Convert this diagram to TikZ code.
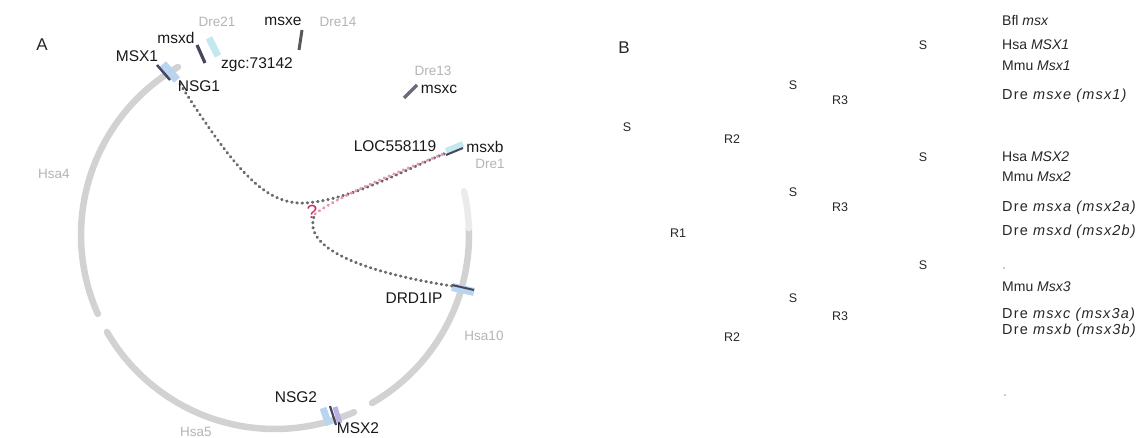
\documentclass[tikz,border=0pt]{standalone}
\usepackage{fontspec}
\setmainfont{Liberation Sans}
\definecolor{chromgray}{RGB}{210,210,210}
\definecolor{dotgray}{RGB}{105,105,112}
\definecolor{pinkdot}{RGB}{232,150,178}
\definecolor{qmark}{RGB}{200,40,100}
\definecolor{lblue}{RGB}{185,212,240}
\definecolor{lcyan}{RGB}{195,232,238}
\definecolor{lpurple}{RGB}{190,175,225}
\definecolor{darkmk}{RGB}{70,70,95}
\definecolor{faintgray}{RGB}{180,180,180}
\begin{document}
\begin{tikzpicture}[x=1pt,y=-1pt,
  lab/.style={font=\fontsize{15.5}{17}\selectfont, inner sep=0pt, text=black!90},
  faint/.style={font=\fontsize{13.5}{15}\selectfont, inner sep=0pt, text=faintgray},
  tree/.style={font=\fontsize{12.5}{14}\selectfont, inner sep=0pt, text=black!85},
  sp/.style={font=\fontsize{14}{16}\selectfont, inner sep=0pt, anchor=west, text=black!85},
  spw/.style={sp, font=\fontsize{14.5}{16}\selectfont\addfontfeature{LetterSpace=8}},
  panel/.style={font=\fontsize{17}{19}\selectfont, inner sep=0pt, text=black!85},
  chrom/.style={line width=6.5pt, color=chromgray, line cap=round},
  dots/.style={line width=3pt, color=dotgray, dash pattern=on 0.6pt off 4.6pt, line cap=round},
  pinkdots/.style={dots, color=pinkdot},
  genebar/.style={line cap=butt}]
\useasboundingbox (0,0) rectangle (1147,438);

% ---- Panel A: chromosome arcs ----
\draw[chrom] plot[domain=120:204,samples=60] ({275+194*cos(\x)},{235-194*sin(\x)});
\draw[chrom] plot[domain=210:294,samples=60] ({275+194*cos(\x)},{235-194*sin(\x)});
\draw[chrom] plot[domain=300:362,samples=60] ({275+194*cos(\x)},{235-194*sin(\x)});
\draw[chrom, color=black!8] plot[domain=362:373,samples=20] ({275+194*cos(\x)},{235-194*sin(\x)});

% ---- gene markers ----
\draw[genebar, line width=8pt, color=lblue] (163,64) -- (177,80);
\draw[genebar, line width=2.5pt, color=darkmk] (157,65) -- (170,80);
\draw[genebar, line width=7pt, color=lcyan] (209,38) -- (218,56);
\draw[genebar, line width=3.2pt, color=darkmk] (197,45) -- (205,63);
\draw[genebar, line width=3pt, color=black!65] (302,30) -- (299,50);
\draw[genebar, line width=3.2pt, color=darkmk!80] (417,85) -- (404,98);
\draw[genebar, line width=6pt, color=lcyan] (446,151) -- (463,144);
\draw[genebar, line width=2pt, color=darkmk] (446,155) -- (463,148);
\draw[genebar, line width=8pt, color=lblue] (452,287) -- (474,292);
\draw[genebar, line width=2pt, color=darkmk] (452,285) -- (474,290);
\draw[genebar, line width=7pt, color=lblue] (323,408) -- (329,425);
\draw[genebar, line width=5pt, color=lpurple] (335,407) -- (340,423);
\draw[genebar, line width=2.2pt, color=darkmk] (330,406) -- (336,425);

% ---- connection points ----
\coordinate (nsg1m) at (180,84);
\coordinate (msxbm) at (446,153);
\coordinate (drdm) at (452,286);
\coordinate (jn) at (315,214);

% ---- dotted links ----
\draw[dots] (nsg1m) .. controls (235,170) and (265,205) .. (305,203)
  .. controls (350,200) and (400,172) .. (msxbm);
\draw[dots] (drdm) .. controls (380,275) and (298,252) .. (jn);
\draw[pinkdots] (jn) .. controls (335,198) and (392,174) .. (msxbm);

% ---- labels panel A ----
\node[panel] (pA) at (42,45) {A};
\node[lab] (lmsx1) at (137,56) {MSX1};
\node[lab] (lmsxd) at (176,38) {msxd};
\node[faint] (ldre21) at (217,22) {Dre21};
\node[lab] (lmsxe) at (283,21) {msxe};
\node[faint] (ldre14) at (338,22) {Dre14};
\node[lab] (lzgc) at (257,65) {zgc:73142};
\node[lab] (lnsg1) at (199,86) {NSG1};
\node[faint] (ldre13) at (433,71) {Dre13};
\node[lab] (lmsxc) at (439,89) {msxc};
\node[lab] (lloc) at (395,146) {LOC558119};
\node[lab] (lmsxb) at (485,147) {msxb};
\node[faint] (ldre1) at (490,164) {Dre1};
\node[font=\fontsize{19}{21}\selectfont, inner sep=0pt, text=qmark] (lq) at (312,212) {?};
\node[lab] (ldrd) at (414,298) {DRD1IP};
\node[lab] (lnsg2) at (296,397) {NSG2};
\node[lab] (lmsx2) at (358,428) {MSX2};
\node[faint] (lhsa4) at (54,174) {Hsa4};
\node[faint] (lhsa10) at (484,336) {Hsa10};
\node[faint] (lhsa5) at (196,432) {Hsa5};

% ---- Panel B ----
\node[panel] (pB) at (624,48) {B};
\node[tree] (s1) at (627,127) {S};
\node[tree] (r2a) at (732,139) {R2};
\node[tree] (s2) at (793,85) {S};
\node[tree] (r3a) at (840,100) {R3};
\node[tree] (s3) at (793,192) {S};
\node[tree] (r3b) at (840,207) {R3};
\node[tree] (r1) at (678,233) {R1};
\node[tree] (s4) at (793,298) {S};
\node[tree] (r3c) at (840,316) {R3};
\node[tree] (r2b) at (732,337) {R2};
\node[tree] (s5) at (923,45) {S};
\node[tree] (s6) at (923,157) {S};
\node[tree] (s7) at (923,265) {S};

\node[sp] (t1) at (1002,20) {Bfl \textit{msx}};
\node[sp] (t2) at (1002,45) {Hsa \textit{MSX1}};
\node[sp] (t3) at (1002,66) {Mmu \textit{Msx1}};
\node[spw] (t4) at (1002,96) {Dre \textit{msxe (msx1)}};
\node[sp] (t5) at (1002,157) {Hsa \textit{MSX2}};
\node[sp] (t6) at (1002,177) {Mmu \textit{Msx2}};
\node[spw] (t7) at (1002,208) {Dre \textit{msxa (msx2a)}};
\node[spw] (t8) at (1002,232) {Dre \textit{msxd (msx2b)}};
\node[sp] (t9) at (1002,287) {Mmu \textit{Msx3}};
\node[spw] (t10) at (1002,315) {Dre \textit{msxc (msx3a)}};
\node[spw] (t11) at (1002,331) {Dre \textit{msxb (msx3b)}};
\fill[black!40] (1004,268) circle (0.8);
\fill[black!40] (1005,395) circle (0.8);
\end{tikzpicture}
\end{document}
